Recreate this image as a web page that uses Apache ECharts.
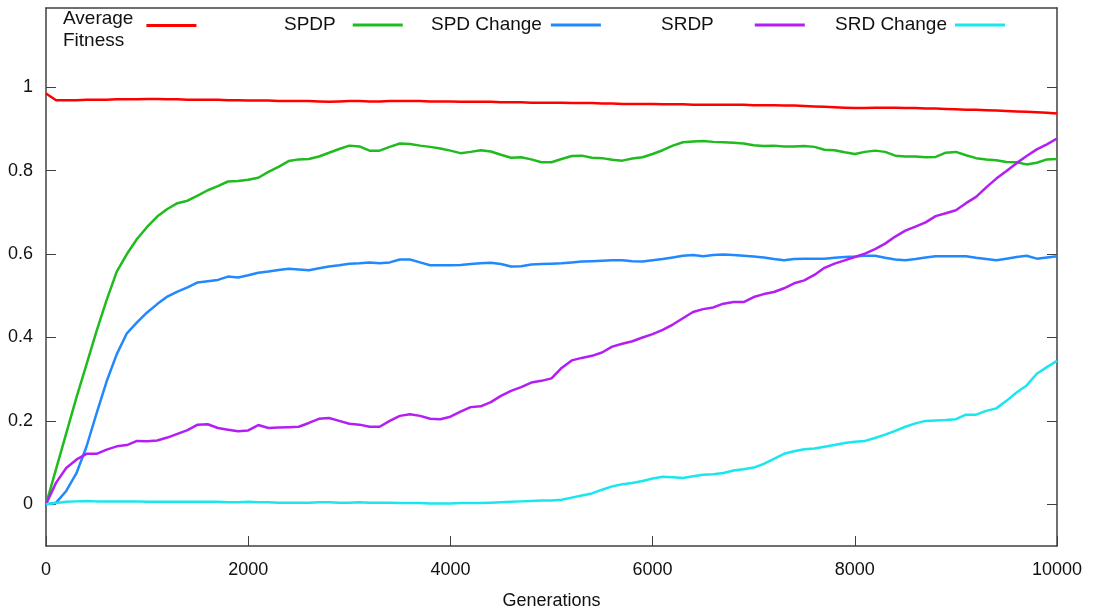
<!DOCTYPE html>
<html>
<head>
<meta charset="utf-8">
<script src="https://cdn.jsdelivr.net/npm/echarts@6/dist/echarts.min.js"></script>
<style>
  html, body { margin: 0; padding: 0; background: #fff; }
  #chart { width: 1095px; height: 610px; }
</style>
</head>
<body>
<div id="chart"></div>
<script>
// Generation numbers: one sample every 100 generations, 0 .. 10000
const generations = Array.from({ length: 101 }, (_, i) => i * 100);

const averageFitness = [
  0.985, 0.969, 0.969, 0.969, 0.970, 0.970, 0.970, 0.971, 0.971, 0.971,
  0.972, 0.972, 0.971, 0.971, 0.970, 0.970, 0.970, 0.970, 0.969, 0.969,
  0.968, 0.968, 0.968, 0.967, 0.967, 0.967, 0.967, 0.966, 0.965, 0.966,
  0.967, 0.967, 0.966, 0.966, 0.967, 0.967, 0.967, 0.967, 0.966, 0.966,
  0.966, 0.965, 0.965, 0.965, 0.965, 0.964, 0.964, 0.964, 0.963, 0.963,
  0.963, 0.963, 0.962, 0.962, 0.962, 0.961, 0.961, 0.960, 0.960, 0.960,
  0.960, 0.959, 0.959, 0.959, 0.958, 0.958, 0.958, 0.958, 0.958, 0.958,
  0.957, 0.957, 0.957, 0.956, 0.956, 0.955, 0.954, 0.953, 0.952, 0.951,
  0.950, 0.950, 0.951, 0.951, 0.951, 0.950, 0.950, 0.949, 0.949, 0.948,
  0.947, 0.946, 0.946, 0.945, 0.944, 0.943, 0.942, 0.941, 0.940, 0.939,
  0.937
];

const spdp = [
  0.000, 0.085, 0.170, 0.255, 0.335, 0.415, 0.490, 0.558, 0.600, 0.636,
  0.665, 0.690, 0.708, 0.722, 0.728, 0.740, 0.753, 0.763, 0.774, 0.775,
  0.778, 0.783, 0.797, 0.809, 0.823, 0.827, 0.828, 0.834, 0.843, 0.852,
  0.860, 0.858, 0.848, 0.848, 0.857, 0.865, 0.864, 0.860, 0.857, 0.853,
  0.848, 0.842, 0.845, 0.849, 0.846, 0.838, 0.831, 0.832, 0.827, 0.820,
  0.820, 0.828, 0.835, 0.836, 0.831, 0.830, 0.826, 0.824, 0.829, 0.832,
  0.840, 0.849, 0.860, 0.868, 0.870, 0.871, 0.869, 0.868, 0.867, 0.865,
  0.861, 0.859, 0.860, 0.858, 0.858, 0.859, 0.857, 0.850, 0.849, 0.844,
  0.840, 0.845, 0.848, 0.845, 0.836, 0.834, 0.834, 0.832, 0.833, 0.843,
  0.845, 0.837, 0.830, 0.827, 0.825, 0.821, 0.820, 0.815, 0.819, 0.827,
  0.828
];

const spdChange = [
  0.000, 0.004, 0.032, 0.074, 0.138, 0.218, 0.295, 0.360, 0.410, 0.436,
  0.460, 0.480, 0.498, 0.510, 0.520, 0.532, 0.535, 0.538, 0.546, 0.544,
  0.549, 0.555, 0.558, 0.562, 0.565, 0.563, 0.561, 0.566, 0.570, 0.573,
  0.577, 0.578, 0.580, 0.578, 0.580, 0.587, 0.587, 0.580, 0.573, 0.573,
  0.573, 0.574, 0.576, 0.578, 0.579, 0.576, 0.570, 0.571, 0.575, 0.576,
  0.577, 0.578, 0.580, 0.582, 0.583, 0.584, 0.585, 0.585, 0.583, 0.582,
  0.585, 0.588, 0.592, 0.596, 0.598, 0.595, 0.598, 0.599, 0.598, 0.596,
  0.594, 0.592, 0.588, 0.585, 0.588, 0.589, 0.589, 0.589, 0.591, 0.593,
  0.594, 0.596, 0.596, 0.591, 0.587, 0.585, 0.588, 0.592, 0.595, 0.595,
  0.595, 0.595, 0.591, 0.588, 0.585, 0.589, 0.593, 0.596, 0.589, 0.592,
  0.595
];

const srdp = [
  0.000, 0.052, 0.087, 0.107, 0.121, 0.121, 0.131, 0.139, 0.142, 0.152,
  0.151, 0.153, 0.160, 0.169, 0.178, 0.191, 0.192, 0.183, 0.179, 0.175,
  0.177, 0.190, 0.183, 0.184, 0.185, 0.186, 0.195, 0.205, 0.207, 0.200,
  0.193, 0.191, 0.186, 0.186, 0.200, 0.212, 0.216, 0.212, 0.205, 0.204,
  0.210, 0.222, 0.233, 0.235, 0.245, 0.260, 0.272, 0.281, 0.292, 0.296,
  0.302, 0.327, 0.345, 0.351, 0.356, 0.364, 0.378, 0.385, 0.391, 0.400,
  0.408, 0.418, 0.431, 0.446, 0.461, 0.468, 0.472, 0.481, 0.485, 0.485,
  0.497, 0.504, 0.509, 0.518, 0.530, 0.537, 0.550, 0.567, 0.577, 0.585,
  0.593, 0.601, 0.612, 0.625, 0.642, 0.656, 0.666, 0.676, 0.691, 0.698,
  0.705, 0.722, 0.737, 0.760, 0.781, 0.799, 0.818, 0.835, 0.851, 0.863,
  0.877
];

const srdChange = [
  0.000, 0.003, 0.006, 0.007, 0.008, 0.007, 0.007, 0.007, 0.007, 0.007,
  0.006, 0.006, 0.006, 0.006, 0.006, 0.006, 0.006, 0.006, 0.005, 0.005,
  0.006, 0.005, 0.005, 0.004, 0.004, 0.004, 0.004, 0.005, 0.005, 0.004,
  0.004, 0.005, 0.004, 0.004, 0.004, 0.003, 0.003, 0.003, 0.002, 0.002,
  0.002, 0.003, 0.003, 0.003, 0.004, 0.005, 0.006, 0.007, 0.008, 0.009,
  0.009, 0.011, 0.016, 0.021, 0.026, 0.035, 0.043, 0.048, 0.051, 0.056,
  0.062, 0.066, 0.065, 0.063, 0.067, 0.071, 0.072, 0.075, 0.081, 0.084,
  0.088, 0.097, 0.109, 0.121, 0.127, 0.132, 0.134, 0.138, 0.142, 0.147,
  0.150, 0.152, 0.159, 0.167, 0.176, 0.186, 0.194, 0.200, 0.201, 0.202,
  0.204, 0.215, 0.215, 0.224, 0.230, 0.248, 0.268, 0.285, 0.313, 0.329,
  0.344
];

const yTicks = [0, 0.2, 0.4, 0.6, 0.8, 1];
const xTicks = [0, 2000, 4000, 6000, 8000, 10000];

const seriesNames = ['Average Fitness', 'SPDP', 'SPD Change', 'SRDP', 'SRD Change'];
const seriesValues = [averageFitness, spdp, spdChange, srdp, srdChange];
const seriesColors = ['#ff0000', '#1fbb1f', '#2288ff', '#b31ef5', '#1ae6ee'];

const FONT = '"Liberation Sans", Arial, sans-serif';
const AXIS_COLOR = '#404040';

const pairs = (vals) => generations.map((g, i) => [g, vals[i]]);

// one legend block per series: label text first, sample line after it
const legendSpec = [
  { name: 'Average Fitness', left: 63, top: -1, gap: 8,
    label: '{s| }\n{a|Average}\n{a|Fitness}' },
  { name: 'SPDP', left: 284, top: 14, gap: 12 },
  { name: 'SPD Change', left: 431, top: 14, gap: 4 },
  { name: 'SRDP', left: 661, top: 14, gap: 36 },
  { name: 'SRD Change', left: 835, top: 14, gap: 3 }
];

const legends = legendSpec.map(s => ({
  data: [s.name],
  left: s.left,
  top: s.top,
  padding: 0,
  align: 'right',
  icon: 'rect',
  itemWidth: 50,
  itemHeight: 3,
  selectedMode: false,
  formatter: () => s.label || s.name,
  textStyle: {
    fontFamily: FONT,
    fontSize: 19,
    color: '#111',
    lineHeight: 22,
    padding: [0, s.gap, 0, 0],
    rich: {
      s: { fontSize: 2, lineHeight: 9 },
      a: { fontFamily: FONT, fontSize: 19, color: '#111', lineHeight: 22, align: 'left' }
    }
  }
}));

const chart = echarts.init(document.getElementById('chart'), null, { renderer: 'canvas' });

chart.setOption({
  animation: false,
  backgroundColor: '#ffffff',
  legend: legends,
  grid: {
    left: 46, right: 38, top: 8, bottom: 64,
    containLabel: false,
    outerBoundsMode: 'none'
  },
  xAxis: [
    {
      type: 'value',
      min: 0,
      max: 10000,
      interval: 2000,
      name: 'Generations',
      nameLocation: 'middle',
      nameGap: 46,
      nameTextStyle: { fontFamily: FONT, fontSize: 18, color: '#111' },
      axisLine: { show: true, onZero: false, lineStyle: { color: AXIS_COLOR, width: 1.5 } },
      axisTick: { show: true, inside: true, length: 10, lineStyle: { color: AXIS_COLOR, width: 1 } },
      axisLabel: {
        fontFamily: FONT, fontSize: 18, color: '#111', margin: 15,
        customValues: xTicks,
        formatter: v => String(v)
      },
      splitLine: { show: false }
    },
    {
      type: 'value',
      position: 'top',
      min: 0,
      max: 10000,
      axisLine: { show: true, onZero: false, lineStyle: { color: AXIS_COLOR, width: 1.5 } },
      axisTick: { show: false },
      axisLabel: { show: false },
      splitLine: { show: false }
    }
  ],
  yAxis: [
    {
      type: 'value',
      min: -0.1,
      max: 1.19,
      axisLine: { show: true, onZero: false, lineStyle: { color: AXIS_COLOR, width: 1.5 } },
      axisTick: {
        show: true, inside: true, length: 10,
        lineStyle: { color: AXIS_COLOR, width: 1 },
        customValues: yTicks
      },
      axisLabel: {
        fontFamily: FONT, fontSize: 18, color: '#111', margin: 13,
        customValues: yTicks,
        formatter: v => String(Math.round(v * 10) / 10)
      },
      splitLine: { show: false }
    },
    {
      type: 'value',
      position: 'right',
      min: -0.1,
      max: 1.19,
      axisLine: { show: true, onZero: false, lineStyle: { color: AXIS_COLOR, width: 1.5 } },
      axisTick: {
        show: true, inside: true, length: 10,
        lineStyle: { color: AXIS_COLOR, width: 1 },
        customValues: yTicks
      },
      axisLabel: { show: false },
      splitLine: { show: false }
    }
  ],
  series: seriesNames.map((name, i) => ({
    name,
    type: 'line',
    xAxisIndex: 0,
    yAxisIndex: 0,
    data: pairs(seriesValues[i]),
    showSymbol: false,
    symbol: 'none',
    smooth: false,
    color: seriesColors[i],
    lineStyle: { color: seriesColors[i], width: 2.5 },
    z: 2 + i
  }))
});
</script>
</body>
</html>
